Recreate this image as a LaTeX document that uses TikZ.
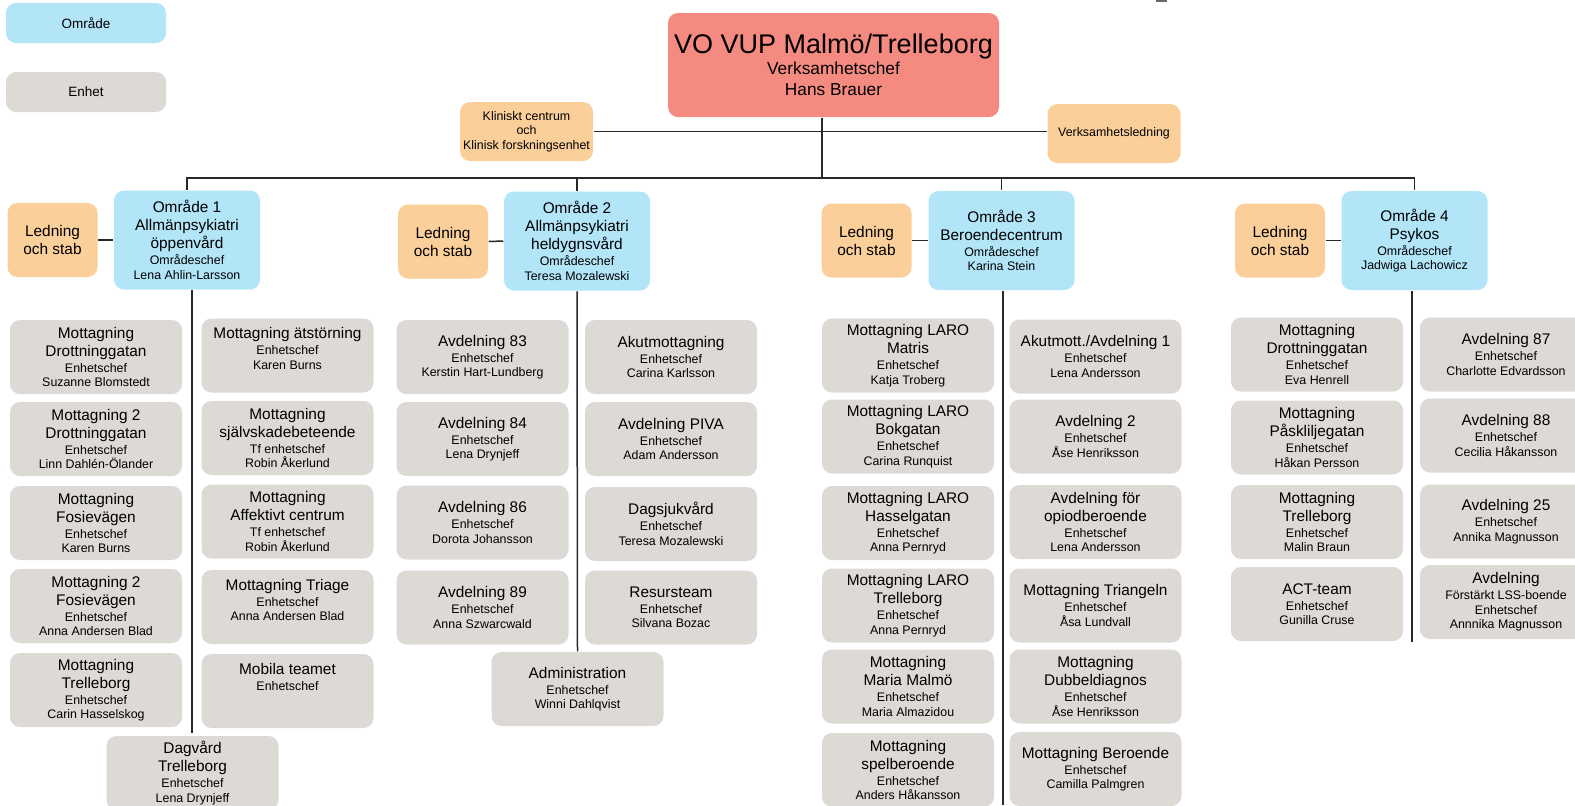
\documentclass[tikz,border=0pt]{standalone}
\usepackage{fontspec}
\setmainfont{Liberation Sans}
\usetikzlibrary{positioning}

\definecolor{omrblue}{RGB}{178,229,248}
\definecolor{enhgrey}{RGB}{221,218,214}
\definecolor{staborange}{RGB}{250,207,154}
\definecolor{chefred}{RGB}{244,138,128}
\definecolor{linegrey}{RGB}{40,40,40}

\newcommand{\hd}[1]{{\fontsize{7.7}{9}\selectfont #1}}
\newcommand{\brt}{\\[-1pt]}
\newcommand{\brs}{\\[-1.8pt]}

\tikzset{every picture/.style={line width=0.75pt}}
\tikzset{
  box/.style={rounded corners=5pt, draw=none, align=center, inner sep=1pt,
    font=\fontsize{6.2}{9}\selectfont},
  enh/.style={box, fill=enhgrey, minimum width=86pt, minimum height=37pt},
  omr/.style={box, fill=omrblue, minimum width=73pt, minimum height=49.5pt},
  stab/.style={box, fill=staborange, minimum width=45pt, minimum height=37pt,
    font=\fontsize{7.7}{9}\selectfont},
  ledn/.style={box, fill=staborange, minimum width=66.5pt, minimum height=29.5pt,
    font=\fontsize{6.2}{7.25}\selectfont},
  chef/.style={box, fill=chefred, minimum width=165.5pt, minimum height=52pt,
    font=\fontsize{8.65}{10.5}\selectfont},
  legend/.style={box, minimum width=80pt, minimum height=20pt,
    font=\fontsize{6.75}{8}\selectfont},
  link/.style={draw=linegrey, line width=0.75pt}
}

\begin{document}
\begin{tikzpicture}[x=0.5pt,y=0.5pt,yscale=-1,xscale=1]
	\useasboundingbox (0,0) rectangle (1575,805);
	
	%Legend
	\node [legend, fill=omrblue] (lgomr) at (86,23) {Område};
	\node [legend, fill=enhgrey] (lgenh) at (86,92) {Enhet};
	\fill [linegrey!70] (1156,0) rectangle (1167,1.5);
	
	%Top level
	\node [chef] (vo) at (833.5,65) {{\fontsize{13.5}{14}\selectfont VO VUP Malmö/Trelleborg}\\Verksamhetschef\\Hans Brauer};
	\node [ledn] (kc) at (526.5,131.5) {Kliniskt centrum\\och\\Klinisk forskningsenhet};
	\node [ledn] (vl) at (1114,133.5) {Verksamhetsledning};
	\coordinate (jn) at (822,178);
	
	%Områden
	\node [omr] (o1) at (187,240) {\hd{Område 1}\\\hd{Allmänpsykiatri}\\\hd{öppenvård}\brt Områdeschef\brs Lena Ahlin-Larsson};
	\node [omr] (o2) at (577,241) {\hd{Område 2}\\\hd{Allmänpsykiatri}\\\hd{heldygnsvård}\brt Områdeschef\brs Teresa Mozalewski};
	\node [omr] (o3) at (1001.5,240.5) {\hd{Område 3}\\\hd{Beroendecentrum}\brt Områdeschef\brs Karina Stein};
	\node [omr] (o4) at (1414.5,240.5) {\hd{Område 4}\\\hd{Psykos}\brt Områdeschef\brs Jadwiga Lachowicz};
	
	\node [stab] (l1) at (52.5,240) {Ledning\\och stab};
	\node [stab] (l2) at (443,241.5) {Ledning\\och stab};
	\node [stab] (l3) at (866.5,240.5) {Ledning\\och stab};
	\node [stab] (l4) at (1280,240.5) {Ledning\\och stab};
	
	%Område 1
	\node [enh] (a1) at (96,357) {\hd{Mottagning}\\\hd{Drottninggatan}\brt Enhetschef\brs Suzanne Blomstedt};
	\node [enh] (a2) at (96,439) {\hd{Mottagning 2}\\\hd{Drottninggatan}\brt Enhetschef\brs Linn Dahlén-Ölander};
	\node [enh] (a3) at (96,523) {\hd{Mottagning}\\\hd{Fosievägen}\brt Enhetschef\brs Karen Burns};
	\node [enh] (a4) at (96,606) {\hd{Mottagning 2}\\\hd{Fosievägen}\brt Enhetschef\brs Anna Andersen Blad};
	\node [enh] (a5) at (96,690) {\hd{Mottagning}\\\hd{Trelleborg}\brt Enhetschef\brs Carin Hasselskog};
	\node [enh] (b1) at (287.5,355.5) {\hd{Mottagning ätstörning}\brt Enhetschef\brs Karen Burns\brs\mbox{}};
	\node [enh] (b2) at (287.5,438) {\hd{Mottagning}\\\hd{självskadebeteende}\brt Tf enhetschef\brs Robin Åkerlund};
	\node [enh] (b3) at (287.5,521.5) {\hd{Mottagning}\\\hd{Affektivt centrum}\brt Tf enhetschef\brs Robin Åkerlund};
	\node [enh] (b4) at (287.5,607) {\hd{Mottagning Triage}\brt Enhetschef\brs Anna Andersen Blad\brs\mbox{}};
	\node [enh] (b5) at (287.5,691) {\hd{Mobila teamet}\brt Enhetschef\brs\mbox{}\brs\mbox{}};
	\node [enh] (dg) at (192.5,773) {\hd{Dagvård}\\\hd{Trelleborg}\brt Enhetschef\brs Lena Drynjeff};
	\coordinate (t1) at (192,733);
	
	%Område 2
	\node [enh] (c1) at (482.5,357) {\hd{Avdelning 83}\brt Enhetschef\brs Kerstin Hart-Lundberg};
	\node [enh] (c2) at (482.5,439) {\hd{Avdelning 84}\brt Enhetschef\brs Lena Drynjeff};
	\node [enh] (c3) at (482.5,522.5) {\hd{Avdelning 86}\brt Enhetschef\brs Dorota Johansson};
	\node [enh] (c4) at (482.5,607.5) {\hd{Avdelning 89}\brt Enhetschef\brs Anna Szwarcwald};
	\node [enh] (d1) at (671,357) {\hd{Akutmottagning}\brt Enhetschef\brs Carina Karlsson};
	\node [enh] (d2) at (671,439) {\hd{Avdelning PIVA}\brt Enhetschef\brs Adam Andersson};
	\node [enh] (d3) at (671,524) {\hd{Dagsjukvård}\brt Enhetschef\brs Teresa Mozalewski};
	\node [enh] (d4) at (671,607.5) {\hd{Resursteam}\brt Enhetschef\brs Silvana Bozac};
	\node [enh] (adm) at (577.5,689) {\hd{Administration}\brt Enhetschef\brs Winni Dahlqvist};
	
	%Område 3
	\node [enh] (e1) at (908,355.5) {\hd{Mottagning LARO}\\\hd{Matris}\brt Enhetschef\brs Katja Troberg};
	\node [enh] (e2) at (908,436.5) {\hd{Mottagning LARO}\\\hd{Bokgatan}\brt Enhetschef\brs Carina Runquist};
	\node [enh] (e3) at (908,523) {\hd{Mottagning LARO}\\\hd{Hasselgatan}\brt Enhetschef\brs Anna Pernryd};
	\node [enh] (e4) at (908,605.5) {\hd{Mottagning LARO}\\\hd{Trelleborg}\brt Enhetschef\brs Anna Pernryd};
	\node [enh] (e5) at (908,686.5) {\hd{Mottagning}\\\hd{Maria Malmö}\brt Enhetschef\brs Maria Almazidou};
	\node [enh] (e6) at (908,770) {\hd{Mottagning}\\\hd{spelberoende}\brt Enhetschef\brs Anders Håkansson};
	\node [enh] (f1) at (1095.5,356.5) {\hd{Akutmott./Avdelning 1}\brt Enhetschef\brs Lena Andersson};
	\node [enh] (f2) at (1095.5,436.5) {\hd{Avdelning 2}\brt Enhetschef\brs Åse Henriksson};
	\node [enh] (f3) at (1095.5,522) {\hd{Avdelning för}\\\hd{opiodberoende}\brt Enhetschef\brs Lena Andersson};
	\node [enh] (f4) at (1095.5,605.5) {\hd{Mottagning Triangeln}\brt Enhetschef\brs Åsa Lundvall};
	\node [enh] (f5) at (1095.5,686.5) {\hd{Mottagning}\\\hd{Dubbeldiagnos}\brt Enhetschef\brs Åse Henriksson};
	\node [enh] (f6) at (1095.5,769) {\hd{Mottagning Beroende}\brt Enhetschef\brs Camilla Palmgren};
	\coordinate (t3) at (1003,805);
	
	%Område 4
	\node [enh] (g1) at (1317,354.5) {\hd{Mottagning}\\\hd{Drottninggatan}\brt Enhetschef\brs Eva Henrell};
	\node [enh] (g2) at (1317,437.5) {\hd{Mottagning}\\\hd{Påskliljegatan}\brt Enhetschef\brs Håkan Persson};
	\node [enh] (g3) at (1317,522) {\hd{Mottagning}\\\hd{Trelleborg}\brt Enhetschef\brs Malin Braun};
	\node [enh] (g4) at (1317,604) {\hd{ACT-team}\brt Enhetschef\brs Gunilla Cruse};
	\node [enh] (h1) at (1506,354.5) {\hd{Avdelning 87}\brt Enhetschef\brs Charlotte Edvardsson};
	\node [enh] (h2) at (1506,435.5) {\hd{Avdelning 88}\brt Enhetschef\brs Cecilia Håkansson};
	\node [enh] (h3) at (1506,521.5) {\hd{Avdelning 25}\brt Enhetschef\brs Annika Magnusson};
	\node [enh] (h4) at (1506,602) {\hd{Avdelning}\brt Förstärkt LSS-boende\brs Enhetschef\brs Annnika Magnusson};
	\coordinate (t4) at (1412,642);
	
	%Straight Lines
	\draw [link] (kc.east) -- (kc.east -| vl.west);
	\draw [link] (vo.south -| jn) -- (jn);
	\draw [link] (o1.north) -- (o1.north |- jn) -- (o4.north |- jn) -- (o4.north);
	\draw [link] (o2.north |- jn) -- (o2.north);
	\draw [link] (o3.north |- jn) -- (o3.north);
	\draw [link] (l1.east) -- (o1.west);
	\draw [link] (l2.east) -- (o2.west);
	\draw [link] (l3.east) -- (o3.west);
	\draw [link] (l4.east) -- (o4.west);
	\draw [link] (o1.south -| t1) -- (t1);
	\draw [link] (o2.south) -- (adm.north);
	\draw [link] (o3.south -| t3) -- (t3);
	\draw [link] (o4.south -| t4) -- (t4);
	
\end{tikzpicture}
\end{document}
